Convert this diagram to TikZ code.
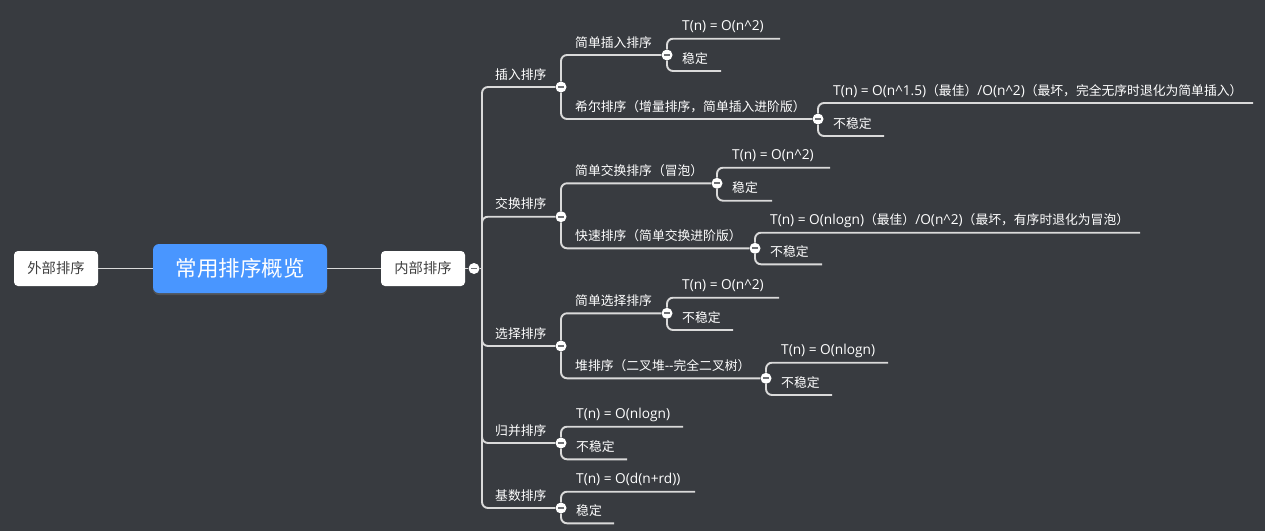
\documentclass[tikz,border=0pt]{standalone}
\usepackage{fontspec}
\setmainfont{Noto Sans CJK SC}
\newfontfamily\latfont{Open Sans}[Scale=1.07]
\newcommand{\tn}[1]{{\latfont #1}}
\usetikzlibrary{shadows}
\definecolor{bgcol}{RGB}{56,59,64}
\definecolor{linecol}{RGB}{218,218,218}
\definecolor{rootcol}{RGB}{73,150,255}
\definecolor{boxtext}{RGB}{64,64,64}
\definecolor{foldmark}{RGB}{110,112,116}
\tikzset{
  link/.style={draw=linecol, line width=1.9pt, rounded corners=6pt},
  fold/.style={circle, fill=white, inner sep=0pt, minimum size=11pt,
    path picture={\draw[foldmark, line width=1.8pt]
      ([xshift=-3pt]path picture bounding box.center) --
      ([xshift=3pt]path picture bounding box.center);}},
  topic/.style={anchor=base west, inner sep=0pt, text=white,
    font=\fontsize{12.8}{15}\selectfont},
  boxtopic/.style={rectangle, rounded corners=4pt, fill=white, text=boxtext,
    minimum width=84pt, minimum height=35pt, inner sep=0pt,
    font=\fontsize{14.3}{16}\selectfont},
  roottopic/.style={rectangle, rounded corners=6pt, fill=rootcol, text=white,
    minimum width=174pt, minimum height=49pt, inner sep=0pt,
    font=\fontsize{21.5}{24}\selectfont,
    drop shadow={opacity=0.35, shadow xshift=0pt, shadow yshift=-2pt}}
}
\begin{document}
\begin{tikzpicture}[x=1pt,y=-1pt]
	\fill[bgcol] (0,0) rectangle (1265,531);
	\useasboundingbox (0,0) rectangle (1265,531);
	% main topics
	\node [boxtopic] (outer) at (56,268.5) {外部排序};
	\node [roottopic] (root) at (240,268.5) {常用排序概览};
	\node [boxtopic] (inner) at (423,268.5) {内部排序};
	\node [fold] (n0) at (474,268.5) {};
	\coordinate (trunk) at (482,268.5);
	% first level
	\node [fold] (insert) at (561,87) {};
	\node [fold] (swap) at (561,216.7) {};
	\node [fold] (select) at (561,346) {};
	\node [fold] (merge) at (561,443) {};
	\node [fold] (radix) at (561,508) {};
	\node [topic] (insert-t) at (495,79) {插入排序};
	\node [topic] (swap-t) at (495,208.7) {交换排序};
	\node [topic] (select-t) at (495,338) {选择排序};
	\node [topic] (merge-t) at (495,435) {归并排序};
	\node [topic] (radix-t) at (495,500) {基数排序};
	% second level
	\node [fold] (straight) at (667,55) {};
	\node [fold] (shell) at (818,119) {};
	\node [fold] (bubble) at (717,183.3) {};
	\node [fold] (quick) at (755,248.3) {};
	\node [fold] (simple) at (667,313.3) {};
	\node [fold] (heap) at (766,378.3) {};
	\node [topic] (straight-t) at (575,47) {简单插入排序};
	\node [topic] (shell-t) at (575,111) {希尔排序（增量排序，简单插入进阶版）};
	\node [topic] (bubble-t) at (575,175.3) {简单交换排序（冒泡）};
	\node [topic] (quick-t) at (575,240.3) {快速排序（简单交换进阶版）};
	\node [topic] (simple-t) at (575,305.3) {简单选择排序};
	\node [topic] (heap-t) at (575,370.3) {堆排序（二叉堆\tn{-{}-}完全二叉树）};
	% leaves
	\coordinate (straight-a) at (780,38.7);
	\coordinate (straight-b) at (721,71);
	\coordinate (shell-a) at (1253,103);
	\coordinate (shell-b) at (884,136);
	\coordinate (bubble-a) at (830,167.7);
	\coordinate (bubble-b) at (772,200.7);
	\coordinate (quick-a) at (1140,232.7);
	\coordinate (quick-b) at (822,264.3);
	\coordinate (simple-a) at (779,297.7);
	\coordinate (simple-b) at (733,330);
	\coordinate (heap-a) at (888,362.7);
	\coordinate (heap-b) at (832,395);
	\coordinate (merge-a) at (683,426.7);
	\coordinate (merge-b) at (627,459.3);
	\coordinate (radix-a) at (695,491.7);
	\coordinate (radix-b) at (614,523.3);
	\node [topic] at (682,30.7) {\tn{T(n) = O(n\textasciicircum 2)}};
	\node [topic] at (682,63) {稳定};
	\node [topic] at (833,95) {\tn{T(n) = O(n\textasciicircum 1.5)}（最佳）\tn{/O(n\textasciicircum 2)}（最坏，完全无序时退化为简单插入）};
	\node [topic] at (833,128) {不稳定};
	\node [topic] at (732,159.7) {\tn{T(n) = O(n\textasciicircum 2)}};
	\node [topic] at (732,192.7) {稳定};
	\node [topic] at (770,224.7) {\tn{T(n) = O(nlogn)}（最佳）\tn{/O(n\textasciicircum 2)}（最坏，有序时退化为冒泡）};
	\node [topic] at (770,256.3) {不稳定};
	\node [topic] at (682,289.7) {\tn{T(n) = O(n\textasciicircum 2)}};
	\node [topic] at (682,322) {不稳定};
	\node [topic] at (781,354.7) {\tn{T(n) = O(nlogn)}};
	\node [topic] at (781,387) {不稳定};
	\node [topic] at (576,418.7) {\tn{T(n) = O(nlogn)}};
	\node [topic] at (576,451.3) {不稳定};
	\node [topic] at (576,483.7) {\tn{T(n) = O(d(n+rd))}};
	\node [topic] at (576,515.3) {稳定};
	% connectors
	\draw [link] (outer) -- (root);
	\draw [link] (root) -- (inner);
	\draw [link] (inner) -- (n0);
	\draw [link] (n0) -- (trunk);
	\foreach \g in {insert,swap,select,merge,radix}
		\draw [link] (trunk) |- (\g);
	\draw [link] (insert) |- (straight);
	\draw [link] (insert) |- (shell);
	\draw [link] (swap) |- (bubble);
	\draw [link] (swap) |- (quick);
	\draw [link] (select) |- (simple);
	\draw [link] (select) |- (heap);
	\foreach \g in {straight,shell,bubble,quick,simple,heap,merge,radix} {
		\draw [link] (\g) |- (\g-a);
		\draw [link] (\g) |- (\g-b);
	}
\end{tikzpicture}
\end{document}
